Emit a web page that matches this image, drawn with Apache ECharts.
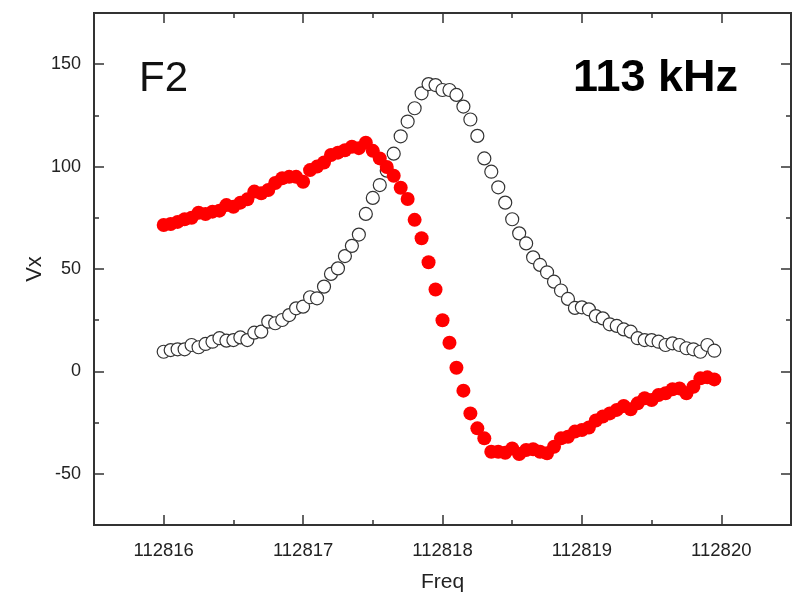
<!DOCTYPE html>
<html>
<head>
<meta charset="utf-8">
<script src="https://cdn.jsdelivr.net/npm/echarts@6/dist/echarts.min.js"></script>
<style>
html,body{margin:0;padding:0;background:#fff;}
#chart{width:792px;height:598px;}
</style>
</head>
<body>
<div id="chart"></div>
<script>
// ---- data ----
const freqStart = 112816;
const freqStep = 0.05;
const amplitude = [9.6,10.4,10.8,10.8,12.9,11.8,13.4,14.5,16.2,15,15.3,16.6,15.3,18.9,19.4,24.3,23.5,25.1,27.5,30.8,31.6,36.2,35.7,41.4,47.6,50.3,56.3,61.3,66.8,76.9,84.7,91,98,106.3,114.8,122,128.5,135.8,140.3,139.8,137.4,137.4,135,129.3,123,115,104,97.5,89.9,82.4,74.3,67.4,62.5,55.7,52,48.4,43.8,39.5,35.4,31,31.3,30.3,27,25.9,23,22.2,20.5,19.4,16.2,15.3,15.3,14.5,12.9,13.7,12.9,11.3,10.8,9.6,12.9,10.1];
const inPhase = [71.5,72,73,74.3,75,77.5,76.8,78,78.5,81.2,80.4,82.4,84,87.8,87,88.6,92,94.3,95,95,92.6,98.3,100,102,105.7,106.8,108,109.7,109,111.7,107.7,104,99.8,95.5,89.7,84.2,74,65,53.3,40,25,14,1.8,-9.4,-20.5,-27.8,-32.7,-39.2,-39.2,-39.7,-37.6,-40.3,-38.4,-38,-39.2,-40,-36.8,-32.7,-31.9,-29.4,-28.6,-27.4,-24,-22,-20.5,-18.8,-16.9,-18.5,-15.6,-13.1,-14,-11.5,-10.7,-8.7,-8.3,-10.7,-7.5,-3.4,-2.9,-3.9];
const xMajorTicks = [112816,112817,112818,112819,112820];
const xMinorTicks = [112816.5,112817.5,112818.5,112819.5];
const yMajorTicks = [-50,0,50,100,150];
const yMinorTicks = [-25,25,75,125];
const xRange = [112815.5,112820.5];
const yRange = [-75,175];
const panelLabel = 'F2';
const freqLabel = '113 kHz';

// ---- build ----
const freqs = amplitude.map((_, i) => +(freqStart + i * freqStep).toFixed(2));
const ampData = amplitude.map((v, i) => [freqs[i], v]);
const inPhaseData = inPhase.map((v, i) => [freqs[i], v]);

const font = 'Liberation Sans, Arial, Helvetica, sans-serif';
const lineCol = '#333';

function xAx(pos, ticks, len, opts) {
  return Object.assign({
    type: 'value', position: pos, min: xRange[0], max: xRange[1],
    axisLine: {show: true, onZero: false, lineStyle: {color: lineCol, width: 2}},
    axisTick: {show: true, inside: true, length: len, customValues: ticks, lineStyle: {color: lineCol, width: 1.5}},
    axisLabel: {show: false},
    splitLine: {show: false}
  }, opts || {});
}
function yAx(pos, ticks, len, opts) {
  return Object.assign({
    type: 'value', position: pos, min: yRange[0], max: yRange[1],
    axisLine: {show: true, onZero: false, lineStyle: {color: lineCol, width: 2}},
    axisTick: {show: true, inside: true, length: len, customValues: ticks, lineStyle: {color: lineCol, width: 1.5}},
    axisLabel: {show: false},
    splitLine: {show: false}
  }, opts || {});
}

const chart = echarts.init(document.getElementById('chart'), null, {renderer: 'canvas'});
chart.setOption({
  animation: false,
  backgroundColor: '#fff',
  grid: {left: 94, right: 1, top: 13, bottom: 73, containLabel: false, outerBoundsMode: 'none'},
  xAxis: [
    xAx('bottom', xMajorTicks, 10, {
      axisLabel: {show: true, customValues: xMajorTicks, margin: 16, fontSize: 18.5, color: '#222', fontFamily: font,
        formatter: v => String(v)},
      name: 'Freq', nameLocation: 'middle', nameGap: 47,
      nameTextStyle: {fontSize: 21, color: '#222', fontFamily: font}
    }),
    xAx('bottom', xMinorTicks, 5),
    xAx('top', xMajorTicks, 10),
    xAx('top', xMinorTicks, 5)
  ],
  yAxis: [
    yAx('left', yMajorTicks, 10, {
      axisLabel: {show: true, customValues: yMajorTicks, margin: 13, fontSize: 18, color: '#222', fontFamily: font},
      name: 'Vx', nameLocation: 'middle', nameGap: 48, nameMoveOverlap: false,
      nameTextStyle: {fontSize: 22, color: '#222', fontFamily: font}
    }),
    yAx('left', yMinorTicks, 5),
    yAx('right', yMajorTicks, 10),
    yAx('right', yMinorTicks, 5)
  ],
  series: [
    {
      type: 'scatter', name: 'amplitude', xAxisIndex: 0, yAxisIndex: 0,
      data: ampData, symbol: 'circle', symbolSize: 13,
      itemStyle: {color: '#ffffff', borderColor: '#333', borderWidth: 1.2, opacity: 1},
      z: 2
    },
    {
      type: 'scatter', name: 'inphase', xAxisIndex: 0, yAxisIndex: 0,
      data: inPhaseData, symbol: 'circle', symbolSize: 14,
      itemStyle: {color: '#ff0000', opacity: 1},
      z: 3
    }
  ],
  graphic: [
    {type: 'text', left: 139, top: 58, style: {text: panelLabel, font: '42px ' + font, fill: '#111'}},
    {type: 'text', right: 54, top: 56, style: {text: freqLabel, font: 'bold 45px ' + font, fill: '#000'}}
  ]
});
</script>
</body>
</html>
